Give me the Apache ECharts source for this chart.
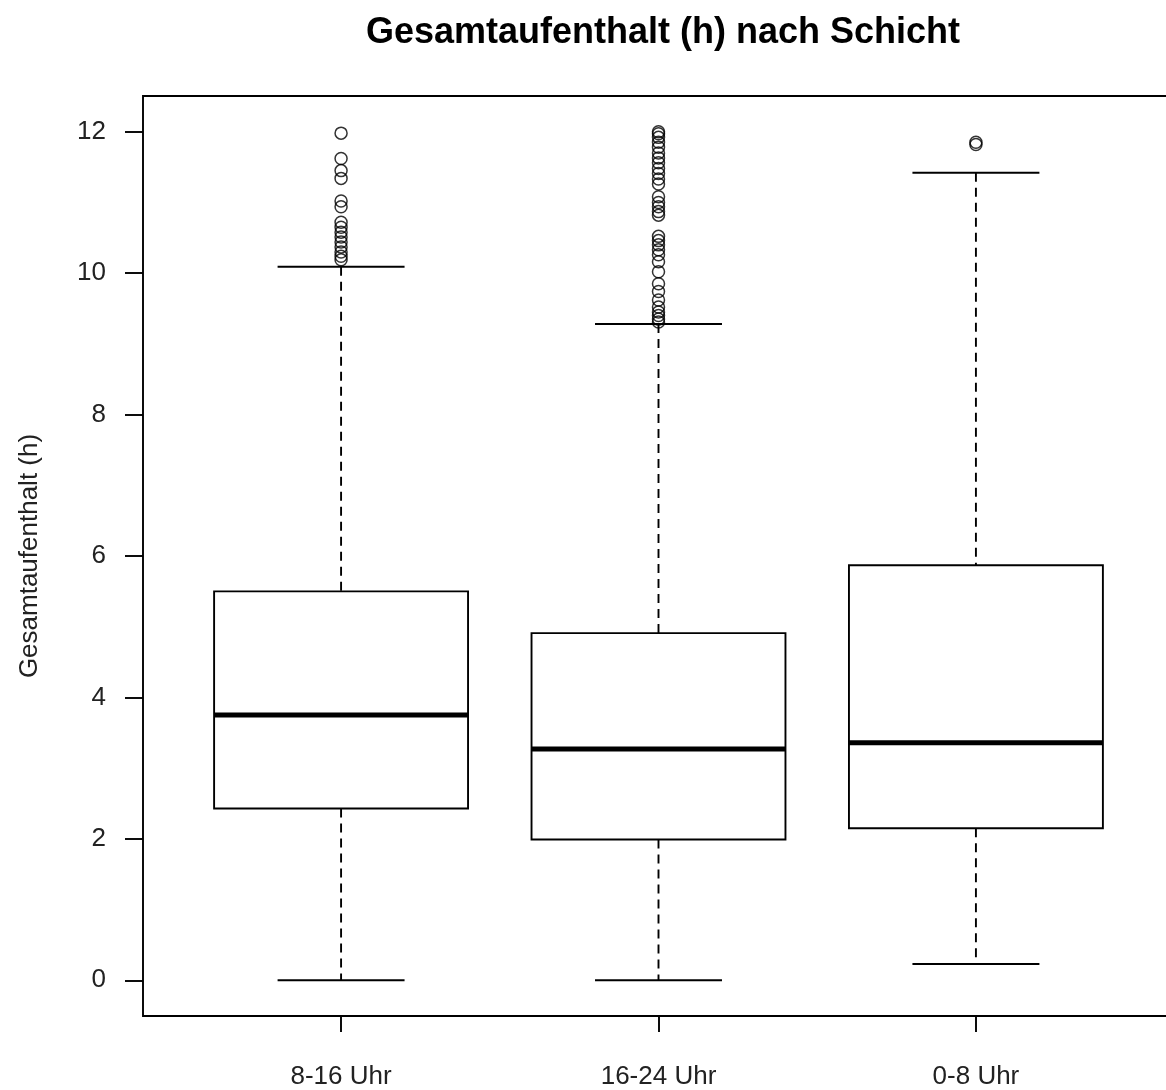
<!DOCTYPE html>
<html>
<head>
<meta charset="utf-8">
<title>Gesamtaufenthalt (h) nach Schicht</title>
<script src="https://cdn.jsdelivr.net/npm/echarts@6/dist/echarts.min.js"></script>
<style>
    html, body { margin:0; padding:0; background:#fff; overflow:hidden; }
    #chart { width:1174px; height:1090px; }
</style>
</head>
<body>
<div id="chart"></div>
<script>
// Schichten und Boxplot-Kennwerte (h)
let categories = ['8-16 Uhr', '16-24 Uhr', '0-8 Uhr'];
let lowerWhisker = [0, 0, 0.23];
let q1 = [2.43, 1.99, 2.15];
let median = [3.75, 3.27, 3.36];
let q3 = [5.50, 4.91, 5.87];
let upperWhisker = [10.09, 9.28, 11.42];
// Ausreisser je Schicht
let outliers1 = [11.98, 11.62, 11.45, 11.34, 11.02, 10.94, 10.72, 10.65, 10.58, 10.51, 10.44, 10.37, 10.30, 10.24, 10.19];
let outliers2 = [12.00, 11.97, 11.92, 11.85, 11.78, 11.70, 11.63, 11.56, 11.48, 11.41, 11.33, 11.26,
    11.08, 11.00, 10.94, 10.87, 10.82,
    10.52, 10.46, 10.40, 10.33, 10.26, 10.16, 10.02, 9.85, 9.74, 9.62, 9.52, 9.45, 9.40, 9.35, 9.31];
let outliers3 = [11.85, 11.82];
let yTicks = [0, 2, 4, 6, 8, 10, 12];

let boxData = categories.map((name, i)=>[i + 1, lowerWhisker[i], q1[i], median[i], q3[i], upperWhisker[i]]);
let outlierData = [];
[outliers1, outliers2, outliers3].forEach((arr, i)=>{
    arr.forEach(v=>outlierData.push([i + 1, v]));
});

let lineStyle = { stroke:'#000', lineWidth:1.9 };

function renderBox(params, api){
    let x = api.value(0);
    let halfBox = api.size([0.8, 0])[0] / 2;
    let halfCap = api.size([0.4, 0])[0] / 2;
    let pLow = api.coord([x, api.value(1)]);
    let pQ1 = api.coord([x, api.value(2)]);
    let pMed = api.coord([x, api.value(3)]);
    let pQ3 = api.coord([x, api.value(4)]);
    let pHigh = api.coord([x, api.value(5)]);
    let cx = pMed[0];
    return {
        type:'group',
        children:[
            { type:'line', shape:{ x1:cx, y1:pHigh[1], x2:cx, y2:pQ3[1] }, style:Object.assign({ lineDash:[9, 6] }, lineStyle) },
            { type:'line', shape:{ x1:cx, y1:pQ1[1], x2:cx, y2:pLow[1] }, style:Object.assign({ lineDash:[9, 6] }, lineStyle) },
            { type:'line', shape:{ x1:cx - halfCap, y1:pHigh[1], x2:cx + halfCap, y2:pHigh[1] }, style:lineStyle },
            { type:'line', shape:{ x1:cx - halfCap, y1:pLow[1], x2:cx + halfCap, y2:pLow[1] }, style:lineStyle },
            { type:'rect', shape:{ x:cx - halfBox, y:pQ3[1], width:halfBox * 2, height:pQ1[1] - pQ3[1] }, style:Object.assign({ fill:'#fff' }, lineStyle) },
            { type:'line', shape:{ x1:cx - halfBox, y1:pMed[1], x2:cx + halfBox, y2:pMed[1] }, style:{ stroke:'#000', lineWidth:5 } }
        ]
    };
}

let myChart = echarts.init(document.getElementById('chart'));
let option = {
    animation:false,
    textStyle:{ fontFamily:'Liberation Sans, Arial, sans-serif' },
    title:{
        text:'Gesamtaufenthalt (h) nach Schicht',
        left:658,
        textAlign:'center',
        top:10,
        textStyle:{ color:'#000', fontSize:36, fontWeight:'bold', fontFamily:'Liberation Sans, Arial, sans-serif' }
    },
    grid:{
        left:143,
        right:0,
        top:96,
        bottom:74,
        show:true,
        borderColor:'#000',
        borderWidth:1.9,
        backgroundColor:'transparent'
    },
    xAxis:{
        type:'value',
        min:0.376,
        max:3.624,
        axisLine:{ show:false, onZero:false },
        splitLine:{ show:false },
        axisTick:{ show:true, customValues:[1, 2, 3], length:16, lineStyle:{ color:'#000', width:1.9 } },
        axisLabel:{
            customValues:[1, 2, 3],
            margin:48,
            color:'#222',
            fontSize:26,
            formatter:(value)=>categories[Math.round(value) - 1] || ''
        }
    },
    yAxis:{
        type:'value',
        min:-0.505,
        max:12.505,
        name:'Gesamtaufenthalt (h)',
        nameLocation:'middle',
        nameGap:100,
        nameTextStyle:{ color:'#222', fontSize:26 },
        axisLine:{ show:false, onZero:false },
        splitLine:{ show:false },
        axisTick:{ show:true, customValues:yTicks, length:18, lineStyle:{ color:'#000', width:1.9 } },
        axisLabel:{ customValues:yTicks, margin:37, color:'#222', fontSize:26 }
    },
    series:[
        {
            type:'custom',
            renderItem:renderBox,
            encode:{ x:0, y:[1, 2, 3, 4, 5] },
            data:boxData,
            z:2
        },
        {
            type:'scatter',
            symbol:'circle',
            symbolSize:12,
            itemStyle:{ color:'rgba(0,0,0,0)', borderColor:'#000', borderWidth:1.5 },
            data:outlierData,
            z:3
        }
    ]
};
myChart.setOption(option);
</script>
</body>
</html>
